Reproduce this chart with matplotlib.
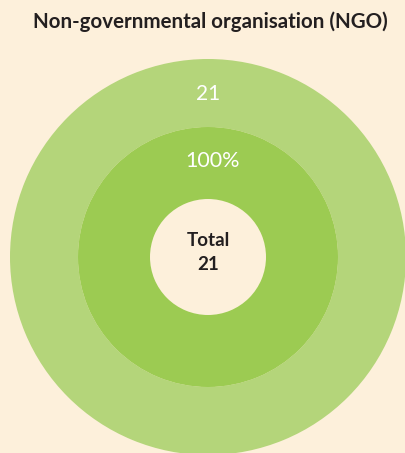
import matplotlib
matplotlib.use("Agg")
import matplotlib.pyplot as plt

title = "Non-governmental organisation (NGO)"
outer_values = [21]
outer_labels = ["21"]
inner_values = [100]
inner_labels = ["100%"]
total = 21

bg = "#fdf0db"
outer_color = "#b4d57a"
inner_color = "#9ccb52"

fig = plt.figure(figsize=(4.05, 4.53), dpi=100, facecolor=bg)
ax = fig.add_axes([0, 0, 1, 1])
ax.set_facecolor(bg)

cx, cy = 208, 257
ax.pie(outer_values, radius=198, center=(cx, cy), colors=[outer_color],
       wedgeprops=dict(width=68, linewidth=0), startangle=90)
ax.pie(inner_values, radius=130, center=(cx, cy), colors=[inner_color],
       wedgeprops=dict(width=72, linewidth=0), startangle=90)

ax.set_xlim(0, 405)
ax.set_ylim(453, 0)
ax.set_aspect("equal")
ax.axis("off")

ax.text(cx, 94, outer_labels[0], color="white", fontsize=15, family="Lato",
        ha="center", va="center")
ax.text(cx + 5, 161, inner_labels[0], color="white", fontsize=15.5, family="Lato",
        ha="center", va="center")
ax.text(cx, 253, f"Total\n{total}", color="#231f20", fontsize=13.5, family="Lato",
        fontweight="bold", ha="center", va="center", linespacing=1.5)
ax.text(210, 22, title, color="#231f20", fontsize=14.8, family="Lato",
        fontweight="bold", ha="center", va="center")

fig.savefig("out.png", dpi=100, facecolor=bg)
